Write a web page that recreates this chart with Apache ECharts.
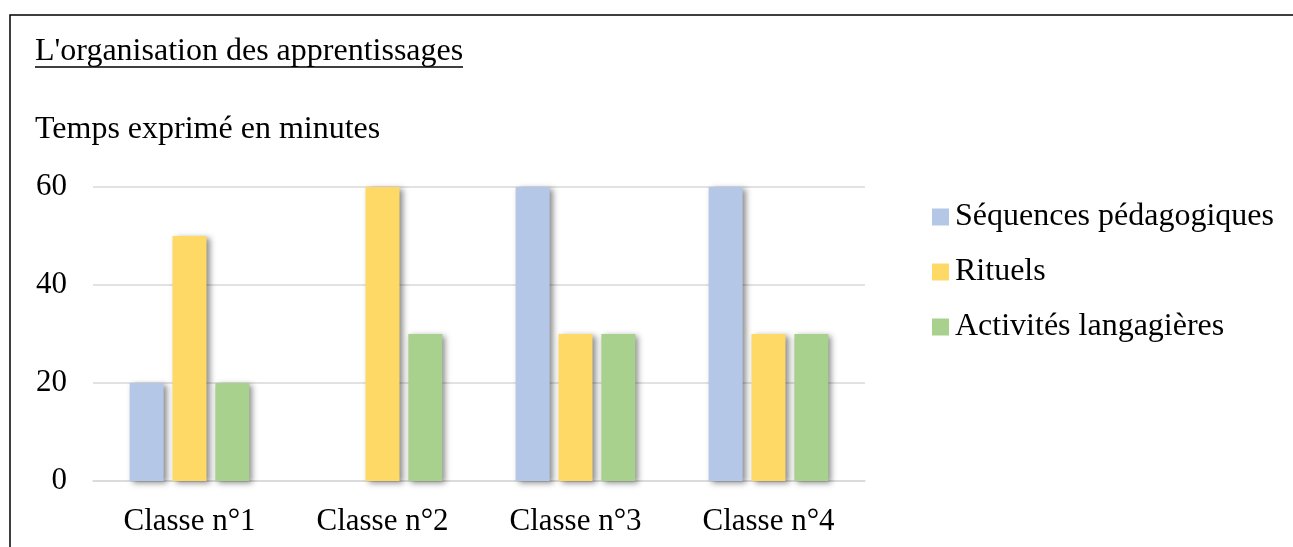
<!DOCTYPE html>
<html>
<head>
<meta charset="utf-8">
<script src="https://cdn.jsdelivr.net/npm/echarts@6/dist/echarts.min.js"></script>
<style>
  html, body { margin: 0; padding: 0; background: #fff; }
  #chart { width: 1293px; height: 547px; }
</style>
</head>
<body>
<div id="chart"></div>
<script>
// données
var classes = ['Classe n°1', 'Classe n°2', 'Classe n°3', 'Classe n°4'];
var sequences = [20, 0, 60, 60];
var rituels = [50, 60, 30, 30];
var activites = [20, 30, 30, 30];
var yTicks = [0, 20, 40, 60];

var police = '"Liberation Serif", "Times New Roman", serif';

var myChart = echarts.init(document.getElementById('chart'));

// ombre portée des barres
function barStyle(couleur) {
  return {
    color: couleur,
    shadowColor: 'rgba(0,0,0,0.45)',
    shadowBlur: 6,
    shadowOffsetX: 3,
    shadowOffsetY: 2
  };
}

var option = {
  animation: false,
  backgroundColor: '#fff',
  textStyle: { fontFamily: police, color: '#000' },
  title: [
    { text: "L'organisation des apprentissages", left: 35, top: 36, padding: 0,
      textStyle: { fontFamily: police, fontSize: 32, fontWeight: 'normal', color: '#000' } },
    { text: 'Temps exprimé en minutes', left: 35, top: 114, padding: 0,
      textStyle: { fontFamily: police, fontSize: 32, fontWeight: 'normal', color: '#000' } }
  ],
  graphic: [
    { type: 'rect', shape: { x: 10, y: 15, width: 1300, height: 560 }, silent: true,
      style: { fill: 'none', stroke: '#000', lineWidth: 1.5 } },
    { type: 'line', shape: { x1: 35, y1: 67, x2: 463, y2: 67 }, silent: true,
      style: { stroke: '#000', lineWidth: 1.3 } }
  ],
  legend: {
    orient: 'vertical',
    left: 927,
    top: 196,
    itemWidth: 17,
    itemHeight: 17,
    itemGap: 23,
    itemStyle: { borderWidth: 0 },
    icon: 'rect',
    textStyle: { fontFamily: police, fontSize: 32, color: '#000', padding: [0, 0, 0, 1] },
    data: ['Séquences pédagogiques', 'Rituels', 'Activités langagières']
  },
  grid: { left: 93, right: 428, top: 187, bottom: 66, containLabel: false },
  xAxis: {
    type: 'category',
    data: classes,
    axisLine: { lineStyle: { color: '#d9d9d9', width: 1.5 } },
    axisTick: { show: false },
    axisLabel: { fontFamily: police, fontSize: 31, color: '#000', margin: 25 }
  },
  yAxis: {
    type: 'value',
    min: yTicks[0],
    max: yTicks[yTicks.length - 1],
    interval: yTicks[1] - yTicks[0],
    axisLine: { show: false },
    axisTick: { show: false },
    splitLine: { lineStyle: { color: '#d9d9d9', width: 1.5 } },
    axisLabel: { fontFamily: police, fontSize: 31, color: '#000', margin: 26 }
  },
  series: [
    { name: 'Séquences pédagogiques', type: 'bar', data: sequences,
      barWidth: 34, barGap: '26%', itemStyle: barStyle('#b4c7e7') },
    { name: 'Rituels', type: 'bar', data: rituels,
      barWidth: 34, barGap: '26%', itemStyle: barStyle('#ffd966') },
    { name: 'Activités langagières', type: 'bar', data: activites,
      barWidth: 34, barGap: '26%', itemStyle: barStyle('#a9d18e') }
  ]
};

myChart.setOption(option);
</script>
</body>
</html>
